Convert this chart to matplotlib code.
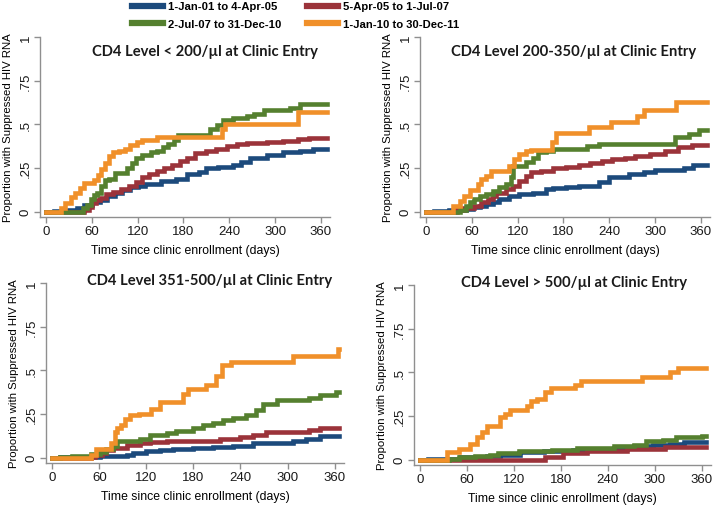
import matplotlib
matplotlib.use('Agg')
import matplotlib.pyplot as plt
from matplotlib.lines import Line2D

plt.rcParams['font.family'] = ['Liberation Sans', 'DejaVu Sans']

# periods (legend) and colours
periods = ['1-Jan-01 to 4-Apr-05', '5-Apr-05 to 1-Jul-07',
           '2-Jul-07 to 31-Dec-10', '1-Jan-10 to 30-Dec-11']
colors = ['#1c4a7c', '#9b333a', '#55802f', '#f0902a']

titles = ['CD4 Level < 200/µl at Clinic Entry',
          'CD4 Level 200-350/µl at Clinic Entry',
          'CD4 Level 351-500/µl at Clinic Entry',
          'CD4 Level > 500/µl at Clinic Entry']

xticks = [0, 60, 120, 180, 240, 300, 360]
yticks = [0, 0.25, 0.5, 0.75, 1]
ytick_labels = ['0', '.25', '.5', '.75', '1']

# ---- panel 1: CD4 < 200 ----
p1_blue_days = [0, 10, 30, 40, 50, 60, 70, 80, 90, 100, 110, 120, 130, 150, 170, 184, 200, 210, 225, 245, 255, 267, 289, 311, 333, 350, 368]
p1_blue_vals = [0, 0.005, 0.01, 0.02, 0.04, 0.055, 0.07, 0.09, 0.11, 0.125, 0.14, 0.15, 0.16, 0.175, 0.19, 0.215, 0.23, 0.25, 0.257, 0.27, 0.285, 0.31, 0.325, 0.34, 0.35, 0.36, 0.36]
p1_red_days = [0, 50, 56, 60, 65, 70, 78, 88, 98, 108, 118, 126, 135, 145, 155, 165, 175, 184, 195, 210, 222, 237, 250, 263, 289, 310, 330, 345, 368]
p1_red_vals = [0, 0.01, 0.03, 0.05, 0.065, 0.08, 0.1, 0.115, 0.13, 0.145, 0.17, 0.2, 0.215, 0.235, 0.25, 0.27, 0.29, 0.31, 0.335, 0.345, 0.36, 0.375, 0.39, 0.395, 0.40, 0.405, 0.415, 0.42, 0.42]
p1_green_days = [0, 48, 53, 59, 63, 67, 72, 77, 82, 90, 106, 112, 118, 125, 138, 145, 153, 160, 167, 173, 215, 224, 232, 245, 263, 272, 285, 320, 333, 368]
p1_green_vals = [0, 0.02, 0.04, 0.075, 0.095, 0.11, 0.15, 0.18, 0.19, 0.22, 0.25, 0.28, 0.31, 0.325, 0.34, 0.35, 0.37, 0.39, 0.41, 0.44, 0.476, 0.495, 0.524, 0.537, 0.55, 0.56, 0.58, 0.596, 0.615, 0.615]
p1_orange_days = [0, 20, 25, 32, 38, 44, 49, 63, 68, 72, 77, 82, 88, 95, 103, 110, 119, 125, 145, 230, 234, 330, 368]
p1_orange_vals = [0, 0.02, 0.05, 0.085, 0.11, 0.135, 0.165, 0.18, 0.21, 0.245, 0.28, 0.32, 0.34, 0.345, 0.36, 0.38, 0.40, 0.41, 0.43, 0.476, 0.505, 0.57, 0.57]

# ---- panel 2: CD4 200-350 ----
p2_blue_days = [0, 10, 30, 52, 61, 70, 79, 87, 96, 109, 122, 140, 157, 166, 183, 200, 226, 240, 266, 285, 300, 338, 350, 368]
p2_blue_vals = [0, 0.005, 0.01, 0.015, 0.025, 0.035, 0.045, 0.055, 0.073, 0.09, 0.1, 0.11, 0.13, 0.135, 0.14, 0.15, 0.17, 0.2, 0.215, 0.23, 0.24, 0.25, 0.265, 0.265]
p2_red_days = [0, 40, 50, 63, 72, 81, 87, 92, 105, 114, 122, 131, 138, 151, 166, 183, 200, 215, 230, 244, 260, 274, 293, 313, 330, 348, 368]
p2_red_vals = [0, 0.01, 0.02, 0.035, 0.053, 0.073, 0.092, 0.11, 0.13, 0.15, 0.178, 0.206, 0.225, 0.235, 0.248, 0.258, 0.268, 0.28, 0.29, 0.3, 0.31, 0.32, 0.33, 0.35, 0.37, 0.38, 0.38]
p2_green_days = [0, 45, 52, 57, 63, 70, 79, 87, 96, 105, 111, 114, 131, 140, 146, 157, 166, 211, 226, 326, 344, 357, 368]
p2_green_vals = [0, 0.01, 0.035, 0.053, 0.073, 0.09, 0.1, 0.12, 0.14, 0.16, 0.2, 0.26, 0.283, 0.31, 0.34, 0.35, 0.36, 0.375, 0.39, 0.425, 0.445, 0.47, 0.47]
p2_orange_days = [0, 35, 44, 50, 57, 68, 72, 79, 85, 108, 115, 122, 131, 138, 165, 170, 214, 242, 276, 286, 327, 368]
p2_orange_vals = [0, 0.035, 0.063, 0.09, 0.125, 0.16, 0.19, 0.206, 0.235, 0.264, 0.3, 0.33, 0.345, 0.355, 0.398, 0.45, 0.484, 0.512, 0.547, 0.585, 0.63, 0.63]

# ---- panel 3: CD4 351-500 ----
p3_blue_days = [0, 10, 61, 95, 103, 120, 137, 154, 180, 205, 230, 256, 273, 307, 324, 341, 366]
p3_blue_vals = [0, 0.005, 0.011, 0.015, 0.03, 0.038, 0.044, 0.05, 0.057, 0.063, 0.068, 0.082, 0.087, 0.095, 0.11, 0.124, 0.124]
p3_red_days = [0, 50, 54, 63, 69, 78, 95, 112, 124, 146, 214, 222, 239, 256, 273, 328, 341, 366]
p3_red_vals = [0, 0.005, 0.015, 0.025, 0.044, 0.057, 0.072, 0.082, 0.09, 0.095, 0.105, 0.11, 0.12, 0.133, 0.148, 0.158, 0.171, 0.171]
p3_green_days = [0, 10, 25, 50, 61, 69, 78, 82, 112, 124, 146, 158, 180, 192, 205, 218, 230, 247, 260, 269, 286, 328, 341, 362, 366]
p3_green_vals = [0, 0.005, 0.01, 0.02, 0.035, 0.05, 0.07, 0.095, 0.11, 0.13, 0.14, 0.152, 0.17, 0.186, 0.2, 0.215, 0.228, 0.243, 0.272, 0.31, 0.33, 0.342, 0.357, 0.376, 0.376]
p3_orange_days = [0, 50, 56, 75, 80, 82, 88, 93, 99, 110, 126, 137, 167, 173, 196, 209, 217, 228, 307, 364, 366]
p3_orange_vals = [0, 0.015, 0.05, 0.082, 0.148, 0.17, 0.19, 0.224, 0.247, 0.253, 0.28, 0.32, 0.367, 0.395, 0.418, 0.47, 0.53, 0.548, 0.585, 0.62, 0.62]

# ---- panel 4: CD4 > 500 ----
p4_blue_days = [0, 10, 51, 85, 102, 128, 158, 196, 222, 256, 277, 298, 320, 337, 366]
p4_blue_vals = [0, 0.005, 0.017, 0.023, 0.03, 0.042, 0.05, 0.055, 0.06, 0.068, 0.08, 0.087, 0.093, 0.103, 0.103]
p4_red_days = [0, 160, 183, 213, 264, 313, 366]
p4_red_vals = [0, 0.017, 0.036, 0.05, 0.061, 0.074, 0.074]
p4_green_days = [0, 37, 49, 70, 89, 100, 126, 168, 200, 248, 274, 289, 310, 327, 360, 366]
p4_green_vals = [0, 0.005, 0.013, 0.02, 0.03, 0.038, 0.048, 0.057, 0.067, 0.076, 0.086, 0.105, 0.114, 0.128, 0.137, 0.137]
p4_orange_days = [0, 34, 49, 64, 73, 79, 85, 102, 108, 115, 136, 142, 149, 159, 167, 198, 206, 284, 320, 330, 366]
p4_orange_vals = [0, 0.044, 0.063, 0.091, 0.13, 0.158, 0.196, 0.244, 0.263, 0.282, 0.31, 0.339, 0.35, 0.39, 0.41, 0.43, 0.45, 0.476, 0.5, 0.527, 0.527]

panels = [
    [(p1_blue_days, p1_blue_vals), (p1_red_days, p1_red_vals), (p1_green_days, p1_green_vals), (p1_orange_days, p1_orange_vals)],
    [(p2_blue_days, p2_blue_vals), (p2_red_days, p2_red_vals), (p2_green_days, p2_green_vals), (p2_orange_days, p2_orange_vals)],
    [(p3_blue_days, p3_blue_vals), (p3_red_days, p3_red_vals), (p3_green_days, p3_green_vals), (p3_orange_days, p3_orange_vals)],
    [(p4_blue_days, p4_blue_vals), (p4_red_days, p4_red_vals), (p4_green_days, p4_green_vals), (p4_orange_days, p4_orange_vals)],
]

W, H = 720, 510
# axes boxes in pixels: left, right, top, bottom
boxes = [(40, 330, 38, 218), (420, 710, 38, 218), (46, 344, 284, 464), (414, 711, 286, 466)]
title_pos = [(0.569, 0.924), (0.528, 0.924), (0.55, 1.018), (0.539, 1.017)]

fig = plt.figure(figsize=(7.2, 5.1), dpi=100)
spine_col = '#8f8f8f'

for i, (l, r, t, b) in enumerate(boxes):
    ax = fig.add_axes([l / W, (H - b) / H, (r - l) / W, (b - t) / H])
    for (days, vals), c in zip(panels[i], colors):
        ax.step(days, vals, where='post', color=c, lw=3.3, solid_joinstyle='miter')
    ax.set_xlim(-8, 372)
    ax.set_ylim(-0.03, 1.0)
    ax.set_xticks(xticks)
    ax.set_yticks(yticks)
    ax.set_yticklabels(ytick_labels, rotation=90, va='center')
    for s in ['top', 'right']:
        ax.spines[s].set_visible(False)
    for s in ['left', 'bottom']:
        ax.spines[s].set_color(spine_col)
        ax.spines[s].set_linewidth(1.0)
    ax.tick_params(axis='both', colors=spine_col, labelcolor='#1a1a1a',
                   labelsize=9.5, length=4, width=1.0, pad=2)
    ax.set_xlabel('Time since clinic enrollment (days)', fontsize=8.8, labelpad=5)
    ax.set_ylabel('Proportion with Suppressed HIV RNA', fontsize=8.2, labelpad=5)
    tx, ty = title_pos[i]
    ax.text(tx, ty, titles[i], transform=ax.transAxes, ha='center', va='center',
            fontsize=10.6, fontweight='bold', family=['Lato', 'DejaVu Sans'], color='#1a1a1a')

# legend: row 1 blue/red, row 2 green/orange
order = [0, 2, 1, 3]
handles = [Line2D([], [], color=colors[k], lw=4.5) for k in order]
labels = [periods[k] for k in order]
fig.legend(handles, labels, loc='upper left', bbox_to_anchor=(132 / W, 1 - 2.5 / H),
           ncol=2, frameon=False, borderpad=0, borderaxespad=0,
           handlelength=2.75, handletextpad=0.45, columnspacing=2.3, labelspacing=0.7,
           prop={'size': 8.1, 'weight': 'bold'})

fig.savefig('out.png', dpi=100, facecolor='white')
